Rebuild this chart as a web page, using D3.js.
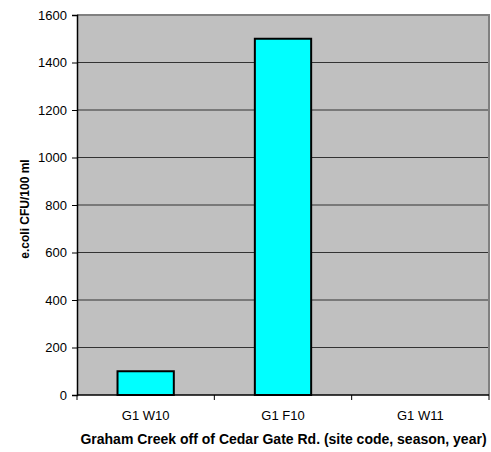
<!DOCTYPE html>
<html>
<head>
<meta charset="utf-8">
<script src="https://d3js.org/d3.v7.min.js"></script>
<style>
body { margin: 0; background: #fff; }
text { font-family: Arial, "Liberation Sans", sans-serif; }
</style>
</head>
<body>
<script>
// sample sites and e.coli counts
var categories = ["G1 W10", "G1 F10", "G1 W11"];
var values = [100, 1500, 0];
var yTicks = [0, 200, 400, 600, 800, 1000, 1200, 1400, 1600];

var width = 491, height = 452;
var margin = {top: 15, right: 2, bottom: 57, left: 77};
var w = width - margin.left - margin.right;
var h = height - margin.top - margin.bottom;

var svg = d3.select("body").append("svg")
  .attr("width", width)
  .attr("height", height);

var g = svg.append("g")
  .attr("transform", "translate(" + margin.left + "," + margin.top + ")");

var x = d3.scaleBand().domain(categories).range([0, w]).paddingInner(0).paddingOuter(0);
var y = d3.scaleLinear().domain([0, 1600]).range([h, 0]);

// plot background
g.append("rect")
  .attr("width", w).attr("height", h)
  .attr("fill", "#c0c0c0");

// gridlines
g.selectAll(".grid").data(yTicks.slice(1, -1)).enter().append("line")
  .attr("x1", 0).attr("x2", w)
  .attr("y1", d => y(d)).attr("y2", d => y(d))
  .attr("stroke", "#333").attr("stroke-width", 1);

// top and right border
g.append("path")
  .attr("d", "M0," + y(1600) + "H" + w + "V" + h)
  .attr("fill", "none").attr("stroke", "#808080").attr("stroke-width", 2);

// bars
var bw = x.bandwidth() * 0.41;
g.selectAll(".bar").data(values).enter().append("rect")
  .attr("x", (d, i) => x(categories[i]) + (x.bandwidth() - bw) / 2)
  .attr("y", d => y(d))
  .attr("width", bw)
  .attr("height", d => h - y(d))
  .attr("fill", d => d > 0 ? "#00ffff" : "none")
  .attr("stroke", d => d > 0 ? "#000" : "none")
  .attr("stroke-width", 2);

// y axis
var yAxis = g.append("g")
  .call(d3.axisLeft(y).tickValues(yTicks).tickSize(5).tickPadding(5).tickFormat(d3.format("d")));
yAxis.select(".domain").attr("stroke", "#000").attr("stroke-width", 1.5);
yAxis.selectAll(".tick line").attr("stroke", "#000");
yAxis.selectAll("text").attr("font-size", 13).attr("fill", "#000")
  .attr("font-family", "Arial, 'Liberation Sans', sans-serif");

// x axis, ticks at category boundaries
var xAxis = g.append("g").attr("transform", "translate(0," + h + ")");
xAxis.append("line").attr("x1", 0).attr("x2", w).attr("stroke", "#000").attr("stroke-width", 1.5);
var bounds = categories.map(c => x(c)).concat([w]);
xAxis.selectAll(".xt").data(bounds).enter().append("line")
  .attr("x1", d => d).attr("x2", d => d)
  .attr("y1", 0).attr("y2", 5)
  .attr("stroke", "#000");
xAxis.selectAll(".xl").data(categories).enter().append("text")
  .attr("x", d => x(d) + x.bandwidth() / 2)
  .attr("y", 25)
  .attr("text-anchor", "middle")
  .attr("font-size", 13)
  .text(d => d);

// axis titles
svg.append("text")
  .attr("x", 283.5)
  .attr("y", 444)
  .attr("text-anchor", "middle")
  .attr("font-size", 14)
  .attr("font-weight", "bold")
  .text("Graham Creek off of Cedar Gate Rd. (site code, season, year)");

svg.append("text")
  .attr("transform", "translate(29,209) rotate(-90)")
  .attr("text-anchor", "middle")
  .attr("font-size", 12)
  .attr("font-weight", "bold")
  .text("e.coli CFU/100 ml");
</script>
</body>
</html>
